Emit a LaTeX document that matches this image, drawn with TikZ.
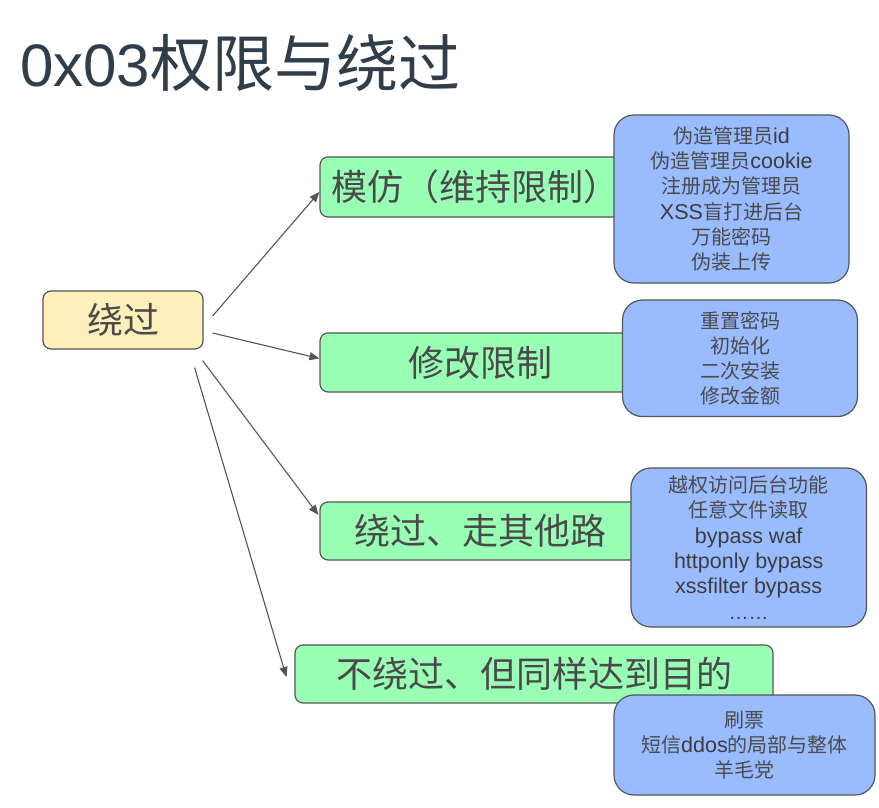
\documentclass[tikz,border=0pt]{standalone}
\usepackage{fontspec}
\setmainfont{Liberation Sans}
\newfontfamily\cjk{Noto Sans CJK SC}
\usetikzlibrary{arrows.meta,calc}
\definecolor{bordergray}{HTML}{555555}
\definecolor{textgray}{HTML}{4A4A4A}
\definecolor{latingray}{HTML}{3C3C3C}
\definecolor{titlecol}{HTML}{2F3E4A}
\definecolor{yellowfill}{HTML}{FFF0BB}
\definecolor{greenfill}{HTML}{99FFB5}
\definecolor{bluefill}{HTML}{99BBFF}
\newcommand\cj[1]{{\fontsize{20}{25.3}\selectfont\cjk\color{textgray}#1}}
\begin{document}
\begin{tikzpicture}[x=1pt,y=-1pt,
  box/.style={draw=bordergray, line width=1.2pt, inner sep=0pt, text=textgray},
  yellowbox/.style={box, fill=yellowfill, rounded corners=8pt, font=\fontsize{36}{40}\selectfont\cjk},
  greenbox/.style={box, fill=greenfill, rounded corners=8pt, font=\fontsize{36}{40}\selectfont\cjk},
  bluebox/.style={box, fill=bluefill, rounded corners=20pt, align=center, text=latingray, font=\fontsize{21.5}{25.3}\selectfont},
  arr/.style={draw=bordergray, line width=1.1pt, -{Triangle[length=10pt,width=8pt]}},
  titlestyle/.style={anchor=base west, inner sep=0pt, text=titlecol, font=\fontsize{60}{66}\selectfont}
]
\useasboundingbox (0,0) rectangle (879,808);
\fill[white] (0,0) rectangle (879,808);

\node[titlestyle] (title) at (20,87) {0x03{\fontsize{62}{66}\selectfont\cjk 权限与绕过}};

\node[yellowbox, minimum width=160pt, minimum height=58pt] (root) at (123,320) {绕过};

\node[greenbox, minimum width=310pt, minimum height=60pt] (g1) at (475,187) {模仿（维持限制）};
\node[greenbox, minimum width=320pt, minimum height=59pt] (g2) at (480,362.5) {修改限制};
\node[greenbox, minimum width=320pt, minimum height=58pt] (g3) at (480,531) {绕过、走其他路};
\node[greenbox, minimum width=478pt, minimum height=58pt] (g4) at (534,674) {不绕过、但同样达到目的};

\node[bluebox, minimum width=235pt, minimum height=168pt] (b1) at (731.5,199) {\cj{伪造管理员}id\\\cj{伪造管理员}cookie\\\cj{注册成为管理员}\\XSS\cj{盲打进后台}\\\cj{万能密码}\\\cj{伪装上传}};
\node[bluebox, minimum width=235pt, minimum height=116.5pt] (b2) at (740,358.3) {\cj{重置密码}\\\cj{初始化}\\\cj{二次安装}\\\cj{修改金额}};
\node[bluebox, minimum width=235.5pt, minimum height=159pt] (b3) at (748.7,547.5) {\cj{越权访问后台功能}\\\cj{任意文件读取}\\bypass waf\\httponly bypass\\xssfilter bypass\\{\fontsize{20}{25.3}\selectfont ……}};
\node[bluebox, minimum width=261pt, minimum height=100pt] (b4) at (744.5,745) {\cj{刷票}\\\cj{短信}ddos\cj{的局部与整体}\\\cj{羊毛党}};

\draw[arr] ($(root.east)+(9,-4)$) -- ($(g1.west)+(0,5)$);
\draw[arr] ($(root.east)+(9,13)$) -- ($(g2.west)+(0,-4)$);
\draw[arr] ($(root.south east)+(-1,11)$) -- ($(g3.west)+(-1,-16)$);
\draw[arr] ($(root.south east)+(-9,18)$) -- ($(g4.west)+(-8,3)$);
\end{tikzpicture}
\end{document}
